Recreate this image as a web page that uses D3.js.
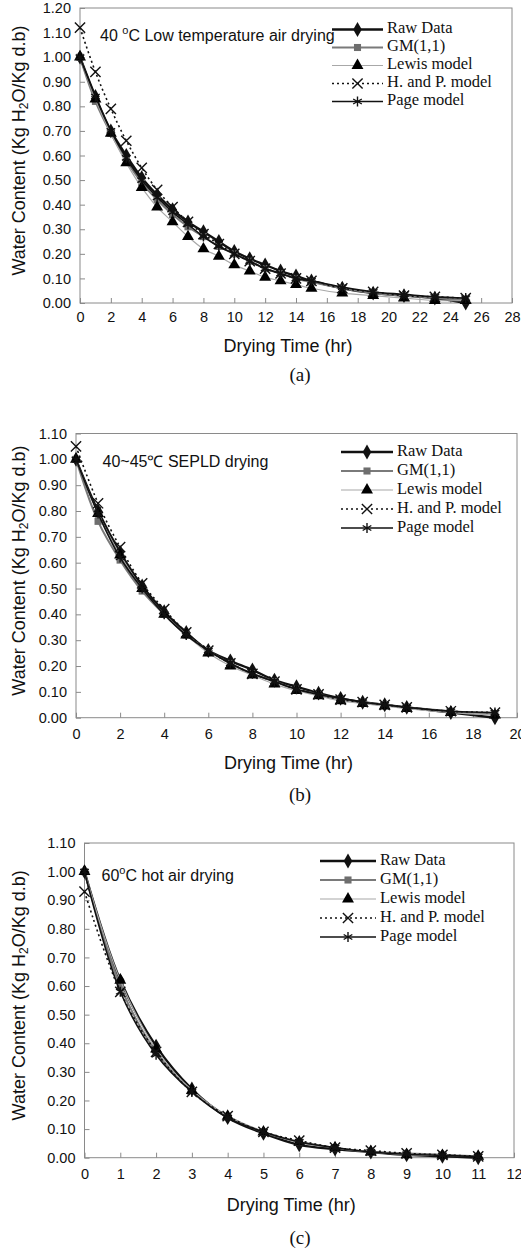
<!DOCTYPE html>
<html><head><meta charset="utf-8">
<script src="https://cdn.jsdelivr.net/npm/d3@7"></script>
<style>body{margin:0;background:#fff}svg{display:block}</style>
</head><body>
<svg id="c" width="521" height="1255"></svg>
<script>
// ---------- DATA ----------
const seriesNames = ["Raw Data","GM(1,1)","Lewis model","H. and P. model","Page model"];

const timeA  = [0,1,2,3,4,5,6,7,8,9,10,11,12,13,14,15,17,19,21,23,25];
const rawA   = [1.00,0.84,0.70,0.60,0.51,0.44,0.38,0.33,0.29,0.25,0.21,0.18,0.155,0.13,0.11,0.09,0.06,0.04,0.03,0.02,0.00];
const gmA    = [1.00,0.82,0.69,0.58,0.49,0.42,0.36,0.31,0.27,0.23,0.20,0.17,0.14,0.12,0.10,0.085,0.06,0.04,0.03,0.02,0.01];
const lewisA = [1.00,0.83,0.69,0.57,0.47,0.39,0.33,0.27,0.22,0.19,0.155,0.13,0.105,0.09,0.075,0.06,0.04,0.03,0.02,0.01,0.01];
const hpA    = [1.12,0.94,0.79,0.66,0.55,0.46,0.39,0.33,0.28,0.24,0.20,0.17,0.14,0.12,0.10,0.09,0.06,0.045,0.03,0.025,0.02];
const pageA  = [1.00,0.84,0.70,0.59,0.50,0.43,0.37,0.32,0.27,0.23,0.20,0.17,0.14,0.12,0.10,0.09,0.065,0.045,0.035,0.025,0.02];

const timeB  = [0,1,2,3,4,5,6,7,8,9,10,11,12,13,14,15,17,19];
const rawB   = [1.00,0.80,0.64,0.51,0.41,0.33,0.26,0.22,0.185,0.145,0.12,0.095,0.075,0.06,0.05,0.04,0.02,0.00];
const gmB    = [1.00,0.76,0.61,0.49,0.40,0.32,0.26,0.21,0.17,0.14,0.11,0.09,0.07,0.06,0.05,0.04,0.025,0.015];
const lewisB = [1.00,0.79,0.63,0.50,0.40,0.32,0.25,0.20,0.165,0.13,0.105,0.085,0.065,0.055,0.045,0.035,0.02,0.01];
const hpB    = [1.05,0.83,0.66,0.52,0.42,0.33,0.26,0.21,0.17,0.14,0.11,0.09,0.07,0.06,0.05,0.04,0.025,0.02];
const pageB  = [1.00,0.79,0.62,0.50,0.40,0.32,0.26,0.21,0.17,0.14,0.11,0.09,0.075,0.06,0.05,0.04,0.025,0.02];

const timeC  = [0,1,2,3,4,5,6,7,8,9,10,11];
const rawC   = [1.00,0.62,0.39,0.24,0.14,0.085,0.045,0.03,0.02,0.01,0.005,0.00];
const gmC    = [1.00,0.60,0.37,0.235,0.145,0.09,0.055,0.035,0.02,0.015,0.01,0.005];
const lewisC = [1.00,0.62,0.38,0.235,0.145,0.09,0.055,0.035,0.02,0.01,0.008,0.005];
const hpC    = [0.93,0.58,0.37,0.23,0.145,0.09,0.06,0.035,0.025,0.015,0.01,0.005];
const pageC  = [1.00,0.58,0.36,0.23,0.14,0.09,0.055,0.035,0.02,0.012,0.008,0.004];

const xTicksA = [0,2,4,6,8,10,12,14,16,18,20,22,24,26,28];
const xTicksB = [0,2,4,6,8,10,12,14,16,18,20];
const xTicksC = [0,1,2,3,4,5,6,7,8,9,10,11,12];
const yTicksA = [0,0.1,0.2,0.3,0.4,0.5,0.6,0.7,0.8,0.9,1.0,1.1,1.2];
const yTicksBC = [0,0.1,0.2,0.3,0.4,0.5,0.6,0.7,0.8,0.9,1.0,1.1];

// ---------- LAYOUT / STYLE ----------
const panels = [
  {time:timeA, vals:[rawA,gmA,lewisA,hpA,pageA], xMax:28, yMax:1.2, xTicks:xTicksA, yTicks:yTicksA,
   L:80, R:512, T:8, B:303, title:["40 ","o","C Low temperature air drying"], tx:100, ty:37,
   legX1:332, legX2:383, legY:29.5, legDy:18, label:"(a)", dTick:15, dTitle:44, dLab:74},
  {time:timeB, vals:[rawB,gmB,lewisB,hpB,pageB], xMax:20, yMax:1.1, xTicks:xTicksB, yTicks:yTicksBC,
   L:76, R:517, T:433.5, B:717.7, title:["40~45℃ SEPLD drying"], tx:102.5, ty:463,
   legX1:341, legX2:393, legY:452, legDy:19, label:"(b)", dTick:17, dTitle:47, dLab:79},
  {time:timeC, vals:[rawC,gmC,lewisC,hpC,pageC], xMax:12, yMax:1.1, xTicks:xTicksC, yTicks:yTicksBC,
   L:84.5, R:514, T:843, B:1157.7, title:["60","o","C hot air drying"], tx:101.5, ty:877,
   legX1:320, legX2:376, legY:861, legDy:19, label:"(c)", dTick:17, dTitle:49, dLab:82}
];

const styles = [
  {stroke:"#111", width:2.4, dash:null, sym:d3.symbolDiamond, size:64, fill:"#111", sstroke:null},
  {stroke:"#7a7a7a", width:2, dash:null, sym:d3.symbolSquare, size:50, fill:"#6e6e6e", sstroke:null},
  {stroke:"#a8a8a8", width:1.2, dash:null, sym:d3.symbolTriangle, size:62, fill:"#000", sstroke:null},
  {stroke:"#111", width:1.6, dash:"2,3", sym:d3.symbolTimes, size:70, fill:"none", sstroke:"#111"},
  {stroke:"#111", width:1.6, dash:null, sym:d3.symbolAsterisk, size:70, fill:"none", sstroke:"#111"}
];

const svg = d3.select("#c");
const sans = "'Liberation Sans', Arial, sans-serif";
const serif = "'Liberation Serif', 'Times New Roman', serif";

panels.forEach(p => {
  const g = svg.append("g");
  const x = d3.scaleLinear().domain([0,p.xMax]).range([p.L,p.R]);
  const y = d3.scaleLinear().domain([0,p.yMax]).range([p.B,p.T]);

  g.append("rect").attr("x",p.L).attr("y",p.T).attr("width",p.R-p.L).attr("height",p.B-p.T)
    .attr("fill","none").attr("stroke","#8a8a8a").attr("stroke-width",1);

  const xAxis = d3.axisBottom(x).tickValues(p.xTicks).tickSizeInner(-5).tickSizeOuter(0).tickPadding(10).tickFormat(d3.format("d"));
  const gx = g.append("g").attr("transform",`translate(0,${p.B})`).call(xAxis);
  gx.select(".domain").remove();
  gx.selectAll("line").attr("stroke","#8a8a8a");
  gx.selectAll("text").attr("font-family",sans).attr("font-size",14.5).attr("fill","#111")
    .attr("y",null).attr("dy",null).attr("dominant-baseline","middle").attr("transform",`translate(0,${p.dTick})`);

  const yAxis = d3.axisLeft(y).tickValues(p.yTicks).tickSizeInner(-5).tickSizeOuter(0).tickPadding(9).tickFormat(d3.format(".2f"));
  const gy = g.append("g").attr("transform",`translate(${p.L},0)`).call(yAxis);
  gy.select(".domain").remove();
  gy.selectAll("line").attr("stroke","#8a8a8a");
  gy.selectAll("text").attr("font-family",sans).attr("font-size",14.5).attr("fill","#111");

  g.append("text").attr("x",(p.L+p.R)/2 - 8).attr("y",p.B+p.dTitle).attr("text-anchor","middle")
    .attr("dominant-baseline","middle").attr("font-family",sans).attr("font-size",18).attr("fill","#111")
    .text("Drying Time (hr)");
  const yl = g.append("text").attr("transform",`translate(20,${(p.T+p.B)/2 - 5}) rotate(-90)`)
    .attr("text-anchor","middle").attr("dominant-baseline","middle")
    .attr("font-family",sans).attr("font-size",18).attr("fill","#111");
  yl.append("tspan").text("Water Content (Kg H");
  yl.append("tspan").attr("font-size",12).attr("dy",5).text("2");
  yl.append("tspan").attr("dy",-5).text("O/Kg d.b)");

  g.append("text").attr("x",300).attr("y",p.B+p.dLab).attr("text-anchor","middle")
    .attr("dominant-baseline","middle").attr("font-family",serif).attr("font-size",19).attr("fill","#111")
    .text(p.label);

  const tt = g.append("text").attr("x",p.tx).attr("y",p.ty).attr("dominant-baseline","middle")
    .attr("font-family",sans).attr("font-size",16).attr("fill","#111");
  if (p.title.length === 3) {
    tt.append("tspan").text(p.title[0]);
    tt.append("tspan").attr("font-size",11).attr("dy",-6).text(p.title[1]);
    tt.append("tspan").attr("dy",6).text(p.title[2]);
  } else {
    tt.text(p.title[0]);
  }

  p.vals.forEach((vals, i) => {
    const s = styles[i];
    const pts = p.time.map((t,k) => [t, vals[k]]);
    const line = d3.line().x(d => x(d[0])).y(d => y(d[1])).curve(d3.curveCatmullRom.alpha(0.5));
    g.append("path").attr("d",line(pts)).attr("fill","none").attr("stroke",s.stroke)
      .attr("stroke-width",s.width).attr("stroke-dasharray",s.dash);
    const sym = d3.symbol().type(s.sym).size(s.size);
    g.append("g").selectAll("path").data(pts).join("path")
      .attr("d",sym).attr("transform",d => `translate(${x(d[0])},${y(d[1])})`)
      .attr("fill",s.fill).attr("stroke",s.sstroke).attr("stroke-width",s.sstroke?1.4:null);
  });

  seriesNames.forEach((name,i) => {
    const s = styles[i];
    const ly = p.legY + i*p.legDy;
    g.append("line").attr("x1",p.legX1).attr("x2",p.legX2).attr("y1",ly).attr("y2",ly)
      .attr("stroke",s.stroke).attr("stroke-width",s.width).attr("stroke-dasharray",s.dash);
    g.append("path").attr("d",d3.symbol().type(s.sym).size(s.size)())
      .attr("transform",`translate(${(p.legX1+p.legX2)/2},${ly})`)
      .attr("fill",s.fill).attr("stroke",s.sstroke).attr("stroke-width",s.sstroke?1.4:null);
    g.append("text").attr("x",p.legX2+4).attr("y",ly).attr("dominant-baseline","middle")
      .attr("font-family",serif).attr("font-size",16.5).attr("fill","#111").text(name);
  });
});
</script>
</body></html>
